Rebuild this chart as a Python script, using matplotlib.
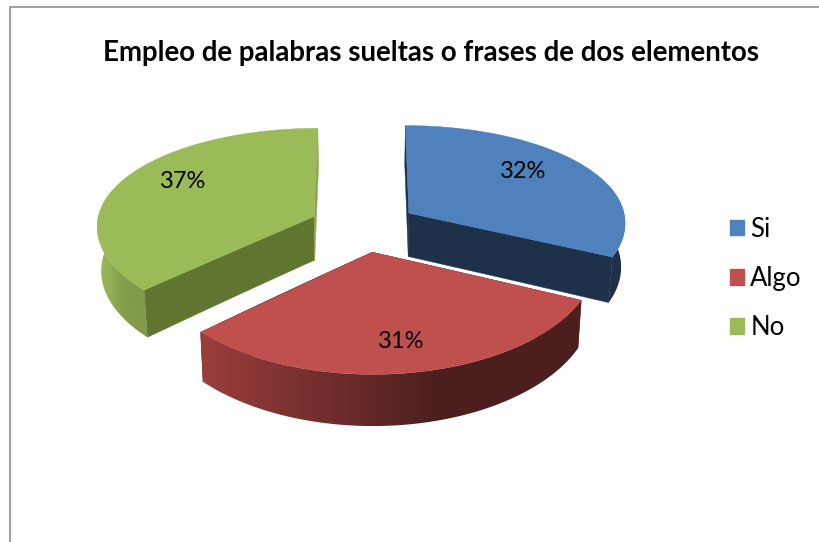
import numpy as np
import matplotlib
matplotlib.use("Agg")
import matplotlib.pyplot as plt
from matplotlib.patches import Patch, Polygon

# ---- data ----
categories = ["Si", "Algo", "No"]
percent = [32, 31, 37]
title = "Empleo de palabras sueltas o frases de dos elementos"

# ---- style ----
top_colors = ["#4f81bd", "#c0504d", "#9bbb59"]
cut_colors = ["#1d3149", "#4d1f1f", "#5f7530"]
rim_ramps = [
    ((29, 49, 73), (29, 49, 73)),
    ((154, 62, 60), (76, 31, 30)),
    ((158, 190, 92), (128, 155, 74)),
]
label_xy = [(523, 171), (401, 341), (183, 181)]
FONT = "Lato"

x0, y0 = 363.5, 226.5     # pie centre in pixels
A, B = 217.5, 101.0       # radii in pixels
PX, PY = 0.085, 0.119     # perspective strength, horizontal and vertical
E = 0.25                  # explosion, in radii
D = 44.0                  # wall height
BOTTOM_SCALE = 0.985


def project(X, Y, low=False):
    Y = np.asarray(Y)
    fx = 1.0 / (1.0 + PX * Y)
    fy = 1.0 / (1.0 + PY * Y)
    s = BOTTOM_SCALE if low else 1.0
    return x0 + s * A * np.asarray(X) * fx, y0 - B * Y * fy + (D * fy if low else 0.0)


def quad_poly(xa, ya, xb, yb):
    return np.column_stack([np.r_[xa, xb[::-1]], np.r_[ya, yb[::-1]]])


fig = plt.figure(figsize=(8.19, 5.42), dpi=100)
ax = fig.add_axes([0, 0, 1, 1])
ax.axis("off")

# chart frame: only left and top edges fall inside the picture
ax.plot([9.5, 9.5, 819], [542, 6.5, 6.5], color="#8f8f8f", lw=1.2, solid_joinstyle="miter")

# slice angles from the values, clockwise from twelve o'clock
total = float(sum(percent))
edges = 90.0 - 360.0 * np.cumsum([0] + percent) / total

slices = []
for i in range(len(percent)):
    t0, t1 = edges[i], edges[i + 1]
    mid = np.radians((t0 + t1) / 2)
    ex, ey = E * np.cos(mid), E * np.sin(mid)
    th = np.radians(np.linspace(t0, t1, 240))
    slices.append((i, t0, t1, ex, ey, th))

# paint back to front: green, blue, red
for i, t0, t1, ex, ey, th in (slices[2], slices[0], slices[1]):
    RX, RY = ex + np.cos(th), ey + np.sin(th)
    # flat cut walls (start edge and end edge)
    for ang in (t0, t1):
        a = np.radians(ang)
        xs = np.linspace(ex, ex + np.cos(a), 30)
        ys = np.linspace(ey, ey + np.sin(a), 30)
        xa, ya = project(xs, ys)
        xb, yb = project(xs, ys, low=True)
        col = cut_colors[i]
        if i == 2 and ang == t1:
            col = "#8aa64e"
        ax.add_patch(Polygon(quad_poly(xa, ya, xb, yb), closed=True, fc=col, ec=col, lw=0.3))
    # outer rim, front part (the top face hides its upper end), with a left-to-right ramp
    front = RY < ey + 0.3
    xa, ya = project(RX[front], RY[front])
    xb, yb = project(RX[front], RY[front], low=True)
    c_left, c_right = np.array(rim_ramps[i][0]) / 255, np.array(rim_ramps[i][1]) / 255
    xmin, xmax = min(xa.min(), xb.min()), max(xa.max(), xb.max())
    w = np.clip(np.linspace(0, 1, 256) / 0.62, 0, 1)[None, :, None]
    grad = c_left[None, None, :] + (c_right - c_left)[None, None, :] * w
    im = ax.imshow(grad, extent=(xmin, xmax, max(yb.max(), ya.max()), min(ya.min(), yb.min())),
                   aspect="auto", interpolation="bilinear", zorder=1)
    rim = Polygon(quad_poly(xa, ya, xb, yb), closed=True, transform=ax.transData)
    im.set_clip_path(rim)
    # top face
    px = np.r_[ex, RX]
    py = np.r_[ey, RY]
    tx, ty = project(px, py)
    ax.add_patch(Polygon(np.column_stack([tx, ty]), closed=True, fc=top_colors[i], ec=top_colors[i],
                         lw=0.3, zorder=3 + (0 if i == 2 else 1 if i == 0 else 2)))

ax.set_xlim(0, 819)
ax.set_ylim(542, 0)

# value labels
for (lx, ly), v in zip(label_xy, percent):
    ax.text(lx, ly, f"{v}%", fontsize=17, family=FONT, color="black", ha="center", va="center", zorder=10)

# title
ax.text(431, 53, title, fontsize=19.9, family=FONT, fontweight="bold", color="black",
        ha="center", va="center", zorder=10)

# legend
handles = [Patch(facecolor=c, edgecolor=c, label=n) for c, n in zip(top_colors, categories)]
leg = ax.legend(handles=handles, loc="center left", bbox_to_anchor=(717 / 819, 1 - 278.5 / 542),
                frameon=False, prop={"family": FONT, "size": 18.5},
                handlelength=0.54, handleheight=0.54, handletextpad=0.26,
                labelspacing=0.94, borderpad=0, borderaxespad=0.5)

fig.savefig("out.png", dpi=100)
